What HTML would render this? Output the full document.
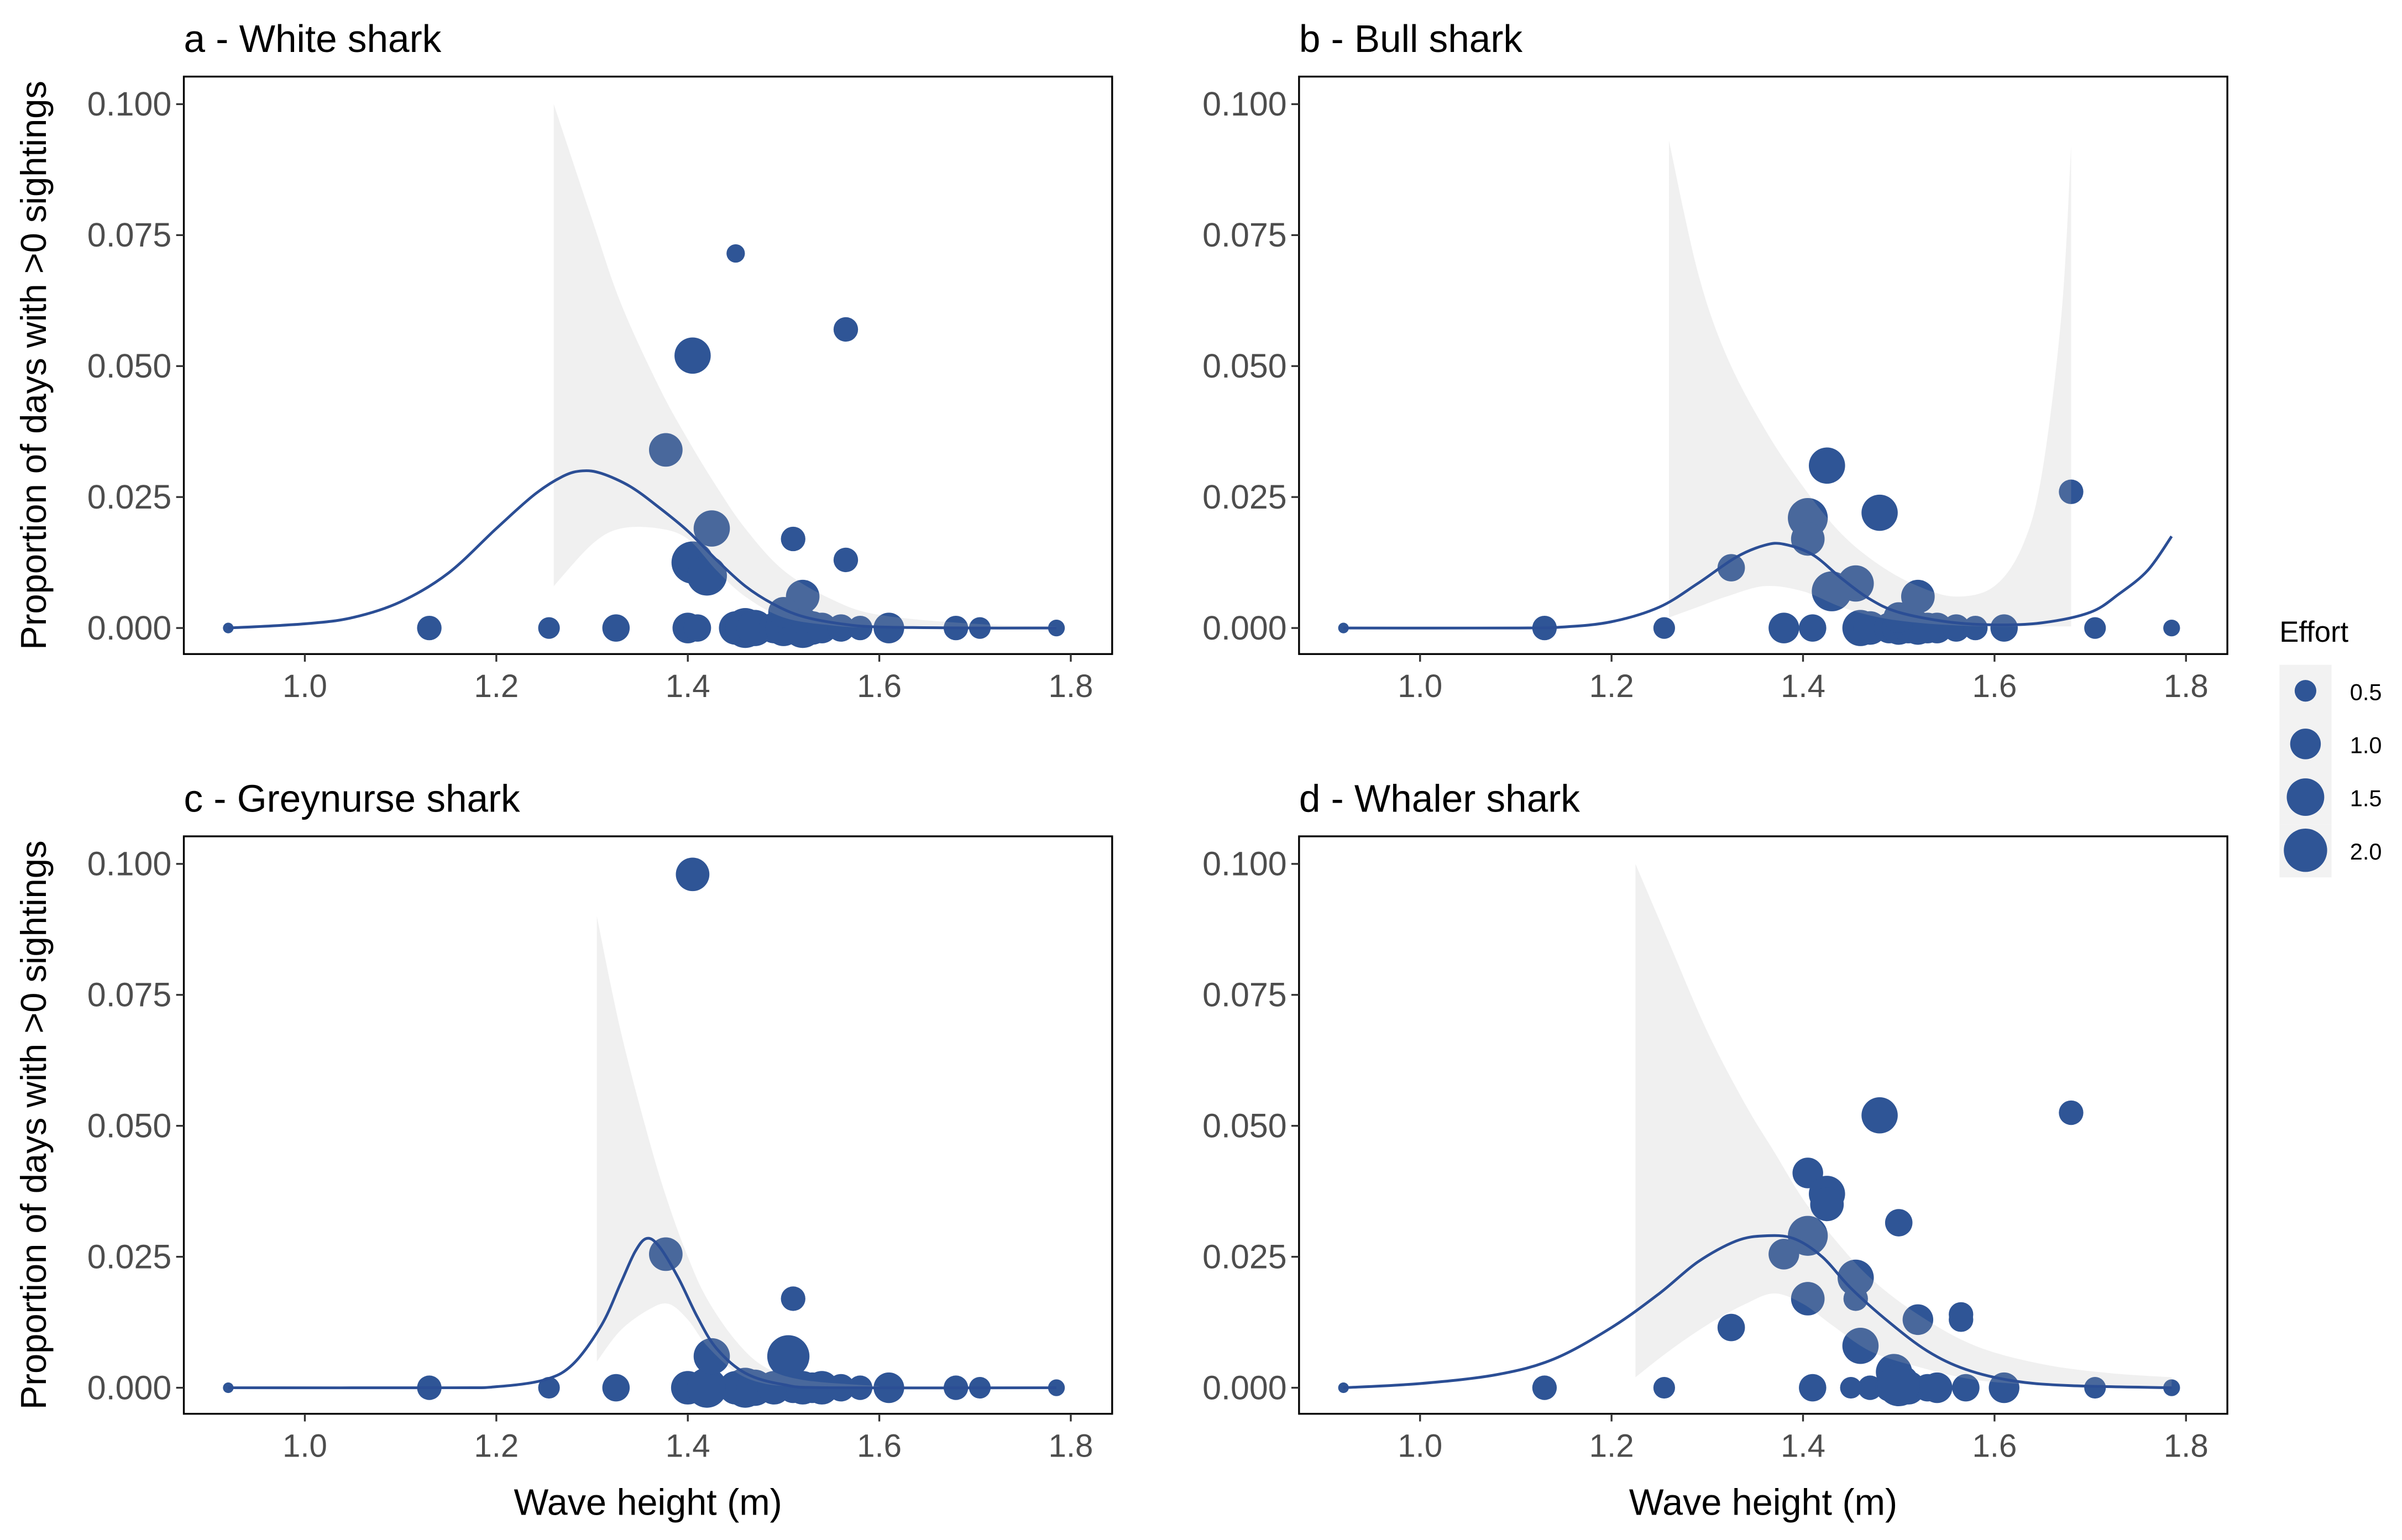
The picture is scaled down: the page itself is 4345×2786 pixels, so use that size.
<!DOCTYPE html>
<html><head><meta charset="utf-8"><style>
html,body{margin:0;padding:0;background:#fff}
svg{display:block}
text{font-family:"Liberation Sans",Arial,sans-serif}
</style></head><body>
<svg id="chart" width="4345" height="2786" viewBox="0 0 1568 1005.4" xmlns="http://www.w3.org/2000/svg">
<g id="legend">
<text x="1488" y="419" font-size="19" fill="#000">Effort</text>
</g>
</svg>
<script>
const NS='http://www.w3.org/2000/svg';
const svg=document.getElementById('chart');
const xTicks=[1.0,1.2,1.4,1.6,1.8];
const xTickLabels=['1.0','1.2','1.4','1.6','1.8'];
const yTicks=[0,0.025,0.05,0.075,0.1];
const yTickLabels=['0.000','0.025','0.050','0.075','0.100'];
const legendEfforts=[0.5,1.0,1.5,2.0];
const legendLabels=['0.5','1.0','1.5','2.0'];
const titles=['a - White shark','b - Bull shark','c - Greynurse shark','d - Whaler shark'];

// zero-row points [x, effort]
const zerosA=[[0.92,0.12],[1.13,0.64],[1.255,0.5],[1.325,0.8],[1.40,1.0],[1.41,0.8],[1.45,1.2],[1.46,1.7],[1.47,1.4],[1.49,1.0],[1.50,1.4],[1.51,1.0],[1.52,1.7],[1.53,1.2],[1.54,1.0],[1.56,0.8],[1.58,0.64],[1.61,1.0],[1.68,0.64],[1.705,0.5],[1.785,0.3]];
const zerosB=[[0.92,0.12],[1.13,0.64],[1.255,0.5],[1.38,1.0],[1.41,0.8],[1.46,1.4],[1.47,1.2],[1.49,1.0],[1.50,1.2],[1.51,1.0],[1.52,1.2],[1.53,1.0],[1.54,1.0],[1.56,0.8],[1.58,0.64],[1.61,0.8],[1.705,0.5],[1.785,0.3]];
const zerosC=[[0.92,0.12],[1.13,0.64],[1.255,0.5],[1.325,0.8],[1.40,1.2],[1.42,1.7],[1.45,1.2],[1.46,1.7],[1.47,1.4],[1.49,1.2],[1.51,1.0],[1.52,1.2],[1.53,1.0],[1.54,1.2],[1.56,0.8],[1.58,0.64],[1.61,1.0],[1.68,0.64],[1.705,0.5],[1.785,0.3]];
const zerosD=[[0.92,0.12],[1.13,0.64],[1.255,0.5],[1.41,0.8],[1.45,0.5],[1.47,0.64],[1.49,0.8],[1.51,1.2],[1.53,0.8],[1.54,1.0],[1.57,0.8],[1.61,1.0],[1.705,0.5],[1.785,0.3]];
// nonzero points [x, y, effort]
const ptsA=[[1.45,0.0715,0.36],[1.565,0.057,0.64],[1.405,0.052,1.4],[1.377,0.034,1.2],[1.425,0.019,1.4],[1.405,0.0125,1.9],[1.42,0.010,1.7],[1.51,0.017,0.64],[1.565,0.013,0.64],[1.52,0.006,1.2],[1.50,0.003,1.0]];
const ptsB=[[1.425,0.031,1.4],[1.405,0.021,1.7],[1.405,0.017,1.2],[1.48,0.022,1.4],[1.325,0.0115,0.8],[1.455,0.0085,1.4],[1.43,0.007,1.7],[1.52,0.006,1.2],[1.68,0.026,0.64],[1.50,0.002,1.0]];
const ptsC=[[1.405,0.098,1.2],[1.377,0.0255,1.2],[1.425,0.006,1.4],[1.505,0.006,1.9],[1.51,0.017,0.64]];
const ptsD=[[1.48,0.052,1.4],[1.68,0.0525,0.64],[1.405,0.041,1.0],[1.425,0.037,1.4],[1.425,0.035,1.2],[1.50,0.0315,0.8],[1.405,0.029,1.7],[1.38,0.0255,1.0],[1.455,0.021,1.4],[1.405,0.017,1.2],[1.455,0.017,0.64],[1.52,0.013,1.0],[1.565,0.014,0.64],[1.565,0.013,0.64],[1.325,0.0115,0.8],[1.46,0.008,1.4],[1.495,0.003,1.4],[1.50,0.0005,1.9]];
// confidence bands [x, lower, upper]
const bandA=[[1.26,0.008,0.1],[1.30,0.016,0.078],[1.33,0.019,0.062],[1.37,0.019,0.046],[1.40,0.017,0.036],[1.43,0.011,0.027],[1.46,0.006,0.019],[1.50,0.002,0.011],[1.55,0.0005,0.0055],[1.60,0,0.0025],[1.70,0,0.0008],[1.785,0,0.0003]];
const bandB=[[1.26,0.002,0.093],[1.29,0.004,0.068],[1.32,0.006,0.052],[1.36,0.008,0.038],[1.40,0.007,0.027],[1.44,0.004,0.018],[1.48,0.002,0.012],[1.52,0.001,0.008],[1.56,0.0005,0.006],[1.60,0.0003,0.008],[1.63,0.0003,0.016],[1.65,0.0003,0.03],[1.67,0.0003,0.06],[1.68,0.0003,0.092]];
const bandC=[[1.305,0.005,0.09],[1.33,0.011,0.068],[1.36,0.015,0.047],[1.38,0.016,0.035],[1.40,0.013,0.025],[1.42,0.008,0.017],[1.45,0.003,0.009],[1.48,0.0008,0.004],[1.52,0.0002,0.0015],[1.60,0,0.0003]];
const bandD=[[1.225,0.002,0.1],[1.26,0.007,0.085],[1.30,0.012,0.068],[1.34,0.016,0.054],[1.37,0.018,0.045],[1.40,0.016,0.036],[1.43,0.012,0.029],[1.47,0.007,0.021],[1.52,0.004,0.014],[1.58,0.0015,0.008],[1.65,0.0005,0.0045],[1.72,0.0002,0.0028],[1.785,0.0001,0.002]];
// fitted curves [x, y]
const curveA=[[0.92,0],[1.0,0.0008],[1.05,0.002],[1.10,0.005],[1.15,0.0105],[1.20,0.019],[1.24,0.0255],[1.27,0.029],[1.29,0.030],[1.31,0.0295],[1.34,0.027],[1.37,0.023],[1.40,0.0185],[1.43,0.013],[1.46,0.008],[1.49,0.0045],[1.52,0.0022],[1.56,0.0008],[1.60,0.0002],[1.70,0],[1.785,0]];
const curveB=[[0.92,0],[1.10,0],[1.15,0.0002],[1.20,0.0012],[1.25,0.004],[1.29,0.0085],[1.33,0.0135],[1.36,0.0158],[1.38,0.016],[1.41,0.014],[1.44,0.0095],[1.47,0.0055],[1.50,0.003],[1.55,0.0012],[1.60,0.0006],[1.65,0.001],[1.70,0.003],[1.73,0.0065],[1.76,0.011],[1.785,0.0175]];
const curveC=[[0.92,0],[1.15,0],[1.20,0.0002],[1.25,0.0015],[1.28,0.0045],[1.31,0.012],[1.33,0.020],[1.345,0.026],[1.357,0.0285],[1.37,0.027],[1.39,0.021],[1.41,0.0135],[1.43,0.0075],[1.46,0.0028],[1.50,0.0006],[1.55,0],[1.785,0]];
const curveD=[[0.92,0],[1.0,0.0008],[1.08,0.0025],[1.14,0.0055],[1.20,0.0115],[1.25,0.018],[1.29,0.024],[1.33,0.028],[1.36,0.029],[1.39,0.0285],[1.42,0.025],[1.45,0.019],[1.49,0.0125],[1.53,0.007],[1.57,0.0035],[1.62,0.0013],[1.68,0.0004],[1.785,0]];

const panels=[
 {x0:120,y0:50,zeros:zerosA,pts:ptsA,band:bandA,curve:curveA,title:titles[0],key:'white',xlab:false,ylab:true},
 {x0:848,y0:50,zeros:zerosB,pts:ptsB,band:bandB,curve:curveB,title:titles[1],key:'bull',xlab:false,ylab:false},
 {x0:120,y0:546,zeros:zerosC,pts:ptsC,band:bandC,curve:curveC,title:titles[2],key:'greynurse',xlab:true,ylab:true},
 {x0:848,y0:546,zeros:zerosD,pts:ptsD,band:bandD,curve:curveD,title:titles[3],key:'whaler',xlab:true,ylab:false}
];
const W=606,H=377;
const PT='#2f5596';
function el(tag,attrs,parent){const e=document.createElementNS(NS,tag);for(const k in attrs)e.setAttribute(k,attrs[k]);(parent||svg).appendChild(e);return e;}
function rad(e){return 10*Math.sqrt(e);}
function smooth(P){ // Catmull-Rom to cubic bezier
 let d='M'+P[0][0]+','+P[0][1];
 for(let i=0;i<P.length-1;i++){
  const p0=P[Math.max(0,i-1)],p1=P[i],p2=P[i+1],p3=P[Math.min(P.length-1,i+2)];
  const c1=[p1[0]+(p2[0]-p0[0])/6,p1[1]+(p2[1]-p0[1])/6];
  const c2=[p2[0]-(p3[0]-p1[0])/6,p2[1]-(p3[1]-p1[1])/6];
  d+='C'+c1[0]+','+c1[1]+' '+c2[0]+','+c2[1]+' '+p2[0]+','+p2[1];
 }
 return d;
}
panels.forEach(p=>{
 const g=el('g',{});
 
 
 const sx=v=>p.x0+79+(v-1.0)*625;
 const sy=v=>p.y0+360-v*3420;
 el('rect',{x:p.x0,y:p.y0,width:W,height:H,fill:'#fff',stroke:'#000','stroke-width':1.2},g);
 const pg=el('g',{fill:PT},g);
 
 
 p.zeros.forEach(d=>{const c=el('circle',{cx:sx(d[0]),cy:sy(0),r:rad(d[1])},pg);
  
  });
 p.pts.forEach(d=>{const c=el('circle',{cx:sx(d[0]),cy:sy(d[1]),r:rad(d[2])},pg);
  
  });
 const up=p.band.map(b=>[sx(b[0]),sy(b[2])]);
 const lo=p.band.slice().reverse().map(b=>[sx(b[0]),sy(b[1])]);
 let dpath=smooth(up)+'L'+smooth(lo).slice(1)+'Z';
 const bd=el('path',{d:dpath,fill:'#b4b4b4','fill-opacity':0.2},g);
 
 
 const ln=el('path',{d:smooth(p.curve.map(c=>[sx(c[0]),sy(c[1])])),fill:'none',stroke:'#2b4e95','stroke-width':1.8,'stroke-linejoin':'round'},g);
 
 
 xTicks.forEach((t,i)=>{
  el('line',{x1:sx(t),x2:sx(t),y1:p.y0+H,y2:p.y0+H+5,stroke:'#333','stroke-width':1.2},g);
  const tx=el('text',{x:sx(t),y:p.y0+H+28,'font-size':21,fill:'#4d4d4d','text-anchor':'middle'},g);
  tx.textContent=xTickLabels[i];
  
  
 });
 yTicks.forEach((t,i)=>{
  el('line',{x1:p.x0-5,x2:p.x0,y1:sy(t),y2:sy(t),stroke:'#333','stroke-width':1.2},g);
  const tx=el('text',{x:p.x0-8,y:sy(t)+7.5,'font-size':22,fill:'#4d4d4d','text-anchor':'end'},g);
  tx.textContent=yTickLabels[i];
  
  
 });
 const tt=el('text',{x:p.x0,y:p.y0-16,'font-size':25,fill:'#000'},g);
 tt.textContent=p.title;
 
 
 if(p.xlab){const xt=el('text',{x:p.x0+W/2,y:p.y0+H+66,'font-size':24,fill:'#000','text-anchor':'middle'},g);
  xt.textContent='Wave height (m)';
  
  }
 if(p.ylab){const cy=p.y0+H/2;const yt=el('text',{x:30,y:cy,'font-size':23.5,fill:'#000','text-anchor':'middle',transform:'rotate(-90 30 '+cy+')'},g);
  yt.textContent='Proportion of days with >0 sightings';
  
  }
});
const lg=document.getElementById('legend');
legendEfforts.forEach((e,i)=>{
 const y=451+i*34.7;
 el('rect',{x:1488,y:y-17,width:34,height:34.7,fill:'#f2f2f2'},lg);
 const c=el('circle',{cx:1505,cy:y,r:rad(e),fill:PT},lg);
 
 
 const t=el('text',{x:1534,y:y+6,'font-size':15,fill:'#000'},lg);
 t.textContent=legendLabels[i];
 
 
});
</script>
</body></html>
